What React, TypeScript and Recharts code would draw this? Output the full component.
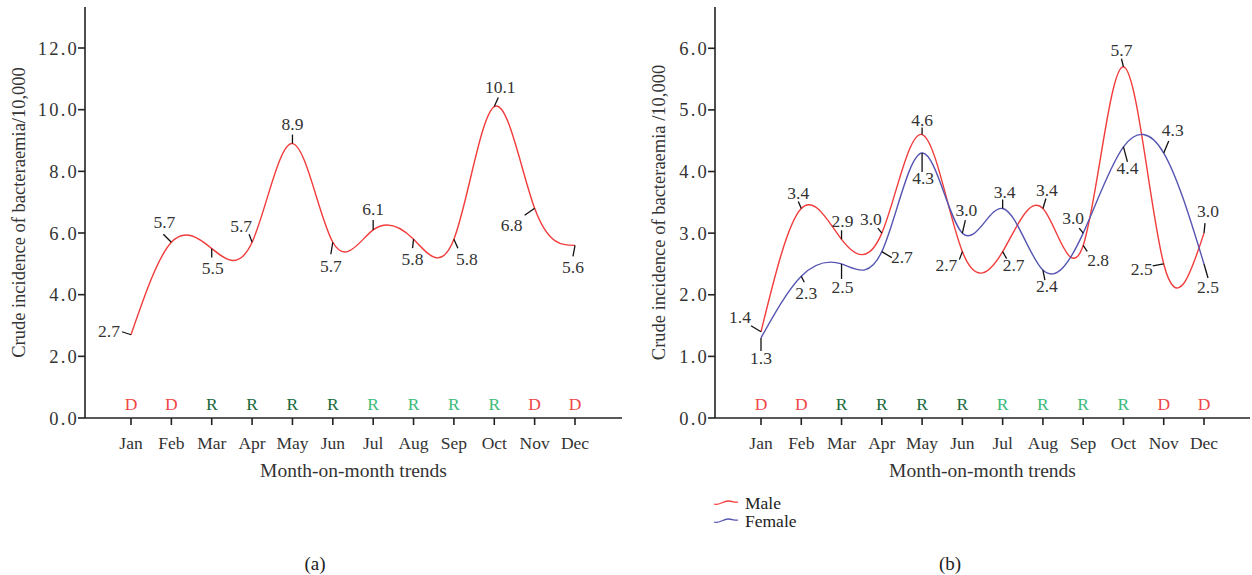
import React from 'react'
import { LineChart, Line, XAxis, YAxis } from 'recharts'

const FONT = '"Liberation Serif", "Times New Roman", serif'

const months = ['Jan', 'Feb', 'Mar', 'Apr', 'May', 'Jun', 'Jul', 'Aug', 'Sep', 'Oct', 'Nov', 'Dec']
const totalIncidence = [2.7, 5.7, 5.5, 5.7, 8.9, 5.7, 6.1, 5.8, 5.8, 10.1, 6.8, 5.6]
const maleIncidence = [1.4, 3.4, 2.9, 3.0, 4.6, 2.7, 2.7, 3.4, 2.8, 5.7, 2.5, 3.0]
const femaleIncidence = [1.3, 2.3, 2.5, 2.7, 4.3, 3.0, 3.4, 2.4, 3.0, 4.4, 4.3, 2.5]
const seasonCodes = ['D', 'D', 'R', 'R', 'R', 'R', 'R', 'R', 'R', 'R', 'D', 'D']
const seasonPhase = ['dry', 'dry', 'early', 'early', 'early', 'early', 'late', 'late', 'late', 'late', 'dry', 'dry']
const leftTicks = [0, 2, 4, 6, 8, 10, 12]
const rightTicks = [0, 1, 2, 3, 4, 5, 6]

const phaseColor = { dry: '#f04848', early: '#1b6b3d', late: '#3dbb7b' }
const RED = '#f23c3c'
const BLUE = '#5656b2'

// where each value label sits: leader end [ex, ey], text centre [tx, ty], relative to the point
const totalLabelPos = [
  [-9, -3, -22, -4], [-8, -8, -7, -20], [0, 9, 1, 19], [-3, -8, -11, -16],
  [0, -9, 0, -20], [-2, 12, -2, 24], [0, -10, 0, -21], [-1, 9, -1, 20],
  [4, 9, 13, 20], [4, -9, 6, -20], [-10, 7, -23, 17], [-2, 11, -2, 22],
]
const maleLabelPos = [
  [-10, -6, -21, -15], [-3, -7, -3, -16], [0, -9, 1, -18], [-4, -5, -11, -14],
  [0, -7, 0, -15], [-3, 8, -16, 13], [4, 7, 11, 13], [3, -10, 4, -19],
  [4, 6, 15, 14], [-2, -8, -2, -17], [-11, 2, -22, 5], [1, -10, 4, -22],
]
const femaleLabelPos = [
  [0, 13, 0, 20], [3, 6, 5, 17], [0, 15, 1, 23], [10, 6, 20, 5],
  [0, 19, 1, 25], [3, -13, 4, -23], [0, -9, 2, -17], [2, 10, 4, 16],
  [-4, -5, -10, -15], [4, 15, 4, 21], [5, -12, 9, -23], [4, 14, 4, 23],
]

const totalRows = months.map((month, i) => ({ month, total: totalIncidence[i] }))
const sexRows = months.map((month, i) => ({ month, male: maleIncidence[i], female: femaleIncidence[i] }))

const makeAnnotation = (values: number[], layout: number[][]) => (p: any) => {
  const { cx, cy, index } = p
  if (cx == null || cy == null) return <g key={`a-${index}`} />
  const [ex, ey, tx, ty] = layout[index]
  return (
    <g key={`a-${index}`}>
      <line x1={cx} y1={cy} x2={cx + ex} y2={cy + ey} stroke="#111" strokeWidth={1.3} />
      <text x={cx + tx} y={cy + ty} dy="0.35em" textAnchor="middle" fontSize={17.5} fill="#333" fontFamily={FONT}>
        {values[index].toFixed(1)}
      </text>
    </g>
  )
}

const seasonMark = (p: any) => {
  const { cx, cy, index } = p
  if (cx == null || cy == null) return <g key={`s-${index}`} />
  return (
    <text key={`s-${index}`} x={cx} y={cy - 8} textAnchor="middle" fontSize={17.5} fontFamily={FONT}
      fill={phaseColor[seasonPhase[index] as keyof typeof phaseColor]}>
      {seasonCodes[index]}
    </text>
  )
}

const yTitle = (text: string, baselineX: number) => (props: any) => {
  const vb = props.viewBox || {}
  const cy = (vb.y ?? 7) + (vb.height ?? 411) / 2
  return (
    <text x={baselineX} y={cy} transform={`rotate(-90, ${baselineX}, ${cy})`} textAnchor="middle"
      fontSize={18.5} fill="#333" fontFamily={FONT}>
      {text}
    </text>
  )
}

const xTitle = (props: any) => {
  const vb = props.viewBox || {}
  const cx = (vb.x ?? 85) + (vb.width ?? 537) / 2
  const y = (vb.y ?? 418) + 59
  return (
    <text x={cx} y={y} textAnchor="middle" fontSize={19.5} fill="#333" fontFamily={FONT}>
      Month-on-month trends
    </text>
  )
}

const axisProps = {
  stroke: '#222',
  strokeWidth: 1.6,
  tickSize: 7,
}

const xTick = { fill: '#333', fontSize: 17.5, fontFamily: FONT }
const yTick = { fill: '#333', fontSize: 18.5, fontFamily: FONT, letterSpacing: 2.2 }

function WavyIcon({ color }: { color: string }) {
  return (
    <svg width={26} height={10} style={{ marginRight: 6 }}>
      <path d="M1,6 C6,8 10,3 15,3 S22,5 25,4" fill="none" stroke={color} strokeWidth={1.3} />
    </svg>
  )
}

export default function App() {
  return (
    <div style={{ position: 'absolute', left: 0, top: 0, width: 1252, height: 575, background: '#fff', fontFamily: FONT }}>
      <div style={{ position: 'absolute', left: 0, top: 0 }}>
        <LineChart width={630} height={575} data={totalRows} margin={{ top: 7, right: 8, bottom: 97, left: 0 }}>
          <XAxis dataKey="month" interval={0} padding={{ left: 46, right: 47 }} height={60} tickMargin={12}
            {...axisProps} tick={xTick} label={xTitle} />
          <YAxis type="number" domain={[0, 13.33]} ticks={leftTicks} width={85} tickMargin={-1}
            {...axisProps} tick={yTick}
            tickFormatter={(v: number) => v.toFixed(1)}
            label={yTitle('Crude incidence of bacteraemia/10,000', 25)} />
          <Line dataKey={() => 0} name="season" stroke="none" dot={seasonMark} activeDot={false}
            legendType="none" isAnimationActive={false} />
          <Line type="natural" dataKey="total" stroke={RED} strokeWidth={1.4}
            dot={makeAnnotation(totalIncidence, totalLabelPos)} activeDot={false} isAnimationActive={false} />
        </LineChart>
      </div>

      <div style={{ position: 'absolute', left: 630, top: 0 }}>
        <LineChart width={622} height={575} data={sexRows} margin={{ top: 7, right: 2, bottom: 97, left: 0 }}>
          <XAxis dataKey="month" interval={0} padding={{ left: 46, right: 46 }} height={60} tickMargin={12}
            {...axisProps} tick={xTick} label={xTitle} />
          <YAxis type="number" domain={[0, 6.67]} ticks={rightTicks} width={85} tickMargin={-1}
            {...axisProps} tick={yTick}
            tickFormatter={(v: number) => v.toFixed(1)}
            label={yTitle('Crude incidence of bacteraemia /10,000', 35)} />
          <Line dataKey={() => 0} name="season" stroke="none" dot={seasonMark} activeDot={false}
            legendType="none" isAnimationActive={false} />
          <Line type="natural" dataKey="male" name="Male" stroke={RED} strokeWidth={1.4}
            dot={makeAnnotation(maleIncidence, maleLabelPos)} activeDot={false} isAnimationActive={false} />
          <Line type="natural" dataKey="female" name="Female" stroke={BLUE} strokeWidth={1.4}
            dot={makeAnnotation(femaleIncidence, femaleLabelPos)} activeDot={false} isAnimationActive={false} />
        </LineChart>
      </div>

      <div style={{ position: 'absolute', left: 713, top: 494, fontSize: 17.5, color: '#222', lineHeight: '18px' }}>
        <div style={{ display: 'flex', alignItems: 'center' }}><WavyIcon color={RED} />Male</div>
        <div style={{ display: 'flex', alignItems: 'center' }}><WavyIcon color={BLUE} />Female</div>
      </div>

      <div style={{ position: 'absolute', left: 275, width: 80, top: 553, textAlign: 'center', fontSize: 19, color: '#222' }}>(a)</div>
      <div style={{ position: 'absolute', left: 910, width: 80, top: 553, textAlign: 'center', fontSize: 19, color: '#222' }}>(b)</div>
    </div>
  )
}
